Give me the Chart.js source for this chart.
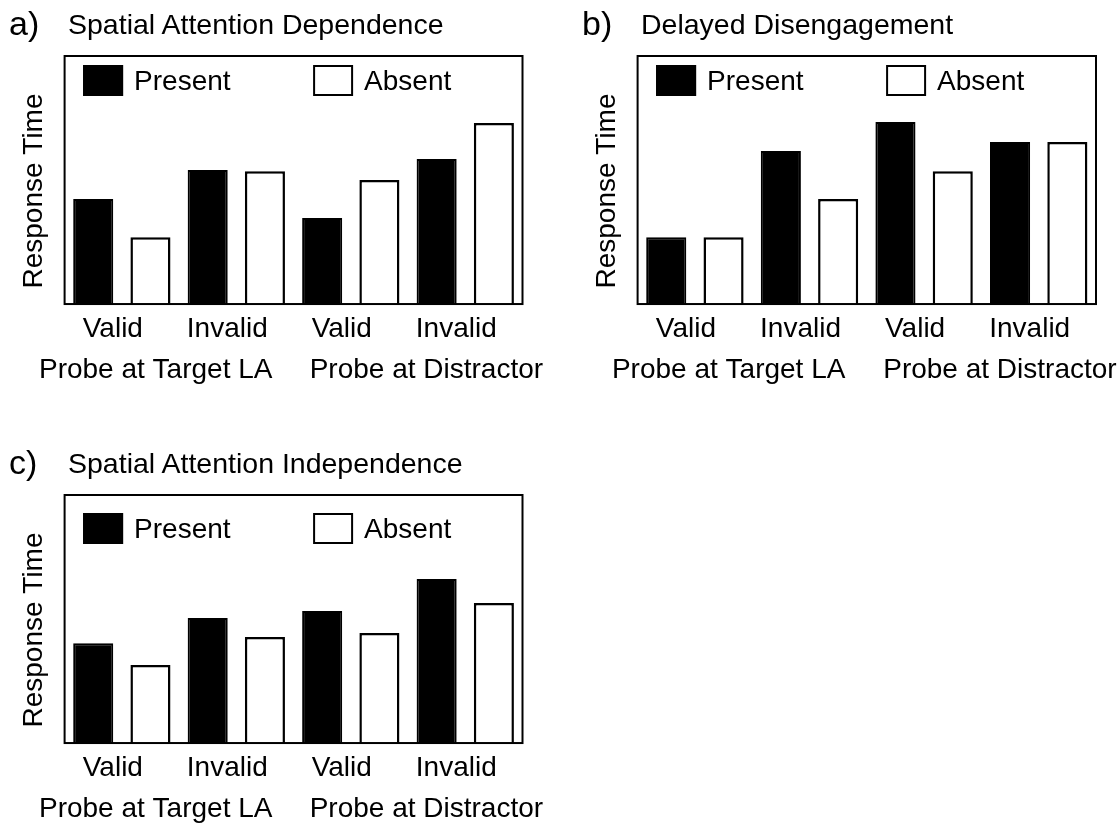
<!DOCTYPE html>
<html><head><meta charset="utf-8">
<script src="https://cdn.jsdelivr.net/npm/chart.js@4.4.0/dist/chart.umd.min.js"></script>
<style>
html,body{margin:0;padding:0;background:#fff;width:1120px;height:823px;overflow:hidden;font-family:'Liberation Sans',Arial,sans-serif;}
.panel{position:absolute;}
.panel canvas{position:absolute;left:0;top:0;}
.tag{position:absolute;left:9px;top:6px;font-size:34px;line-height:34px;color:#000;white-space:nowrap;}
.ttl{position:absolute;left:68px;top:10px;font-size:28.5px;line-height:28px;color:#000;white-space:nowrap;}
</style></head>
<body>
<div class="panel" style="left:0;top:0;width:570px;height:388px;">
  <canvas id="ca" width="570" height="388"></canvas>
  <div class="tag">a)</div><div class="ttl">Spatial Attention Dependence</div>
</div>
<div class="panel" style="left:573px;top:0;width:547px;height:388px;">
  <canvas id="cb" width="547" height="388"></canvas>
  <div class="tag">b)</div><div class="ttl">Delayed Disengagement</div>
</div>
<div class="panel" style="left:0;top:439px;width:570px;height:388px;">
  <canvas id="cc" width="570" height="388"></canvas>
  <div class="tag">c)</div><div class="ttl">Spatial Attention Independence</div>
</div>
<script>
// ---- data ----
const categories = ['Valid', 'Invalid', 'Valid', 'Invalid'];
const groupLabels = ['Probe at Target LA', 'Probe at Distractor'];
const seriesNames = ['Present', 'Absent'];
const yAxisLabel = 'Response Time';

const aPresent = [46.5, 59.3, 38.1, 64.2];
const aAbsent  = [29.6, 58.8, 54.9, 80.1];
const bPresent = [29.6, 67.7, 80.5, 71.7];
const bAbsent  = [29.6, 46.5, 58.8, 71.7];
const cPresent = [44.2, 55.3, 58.4, 72.6];
const cAbsent  = [34.5, 46.9, 48.7, 61.9];

// ---- rendering ----
const FONT = "'Liberation Sans', Arial, sans-serif";
Chart.defaults.font.family = FONT;
Chart.defaults.font.size = 28;
Chart.defaults.color = '#000';

const framePlugin = {
  id: 'frame',
  afterDatasetsDraw(chart, args, o) {
    const {ctx, chartArea: a} = chart;
    const top = a.top - o.extra;
    ctx.save();
    ctx.strokeStyle = '#000';
    ctx.lineWidth = 2;
    ctx.strokeRect(a.left, top, a.right - a.left, a.bottom - top);
    ctx.restore();
  }
};

const boxLegendPlugin = {
  id: 'boxLegend',
  afterDatasetsDraw(chart, args, o) {
    const {ctx, chartArea: a} = chart;
    const top = a.top - o.extra + o.dy;
    ctx.save();
    ctx.font = '28px ' + FONT;
    ctx.textBaseline = 'alphabetic';
    chart.data.datasets.forEach((ds, i) => {
      const x = a.left + o.x0 + i * o.step;
      ctx.fillStyle = ds.backgroundColor;
      ctx.fillRect(x, top, o.w, o.h);
      ctx.lineWidth = 2;
      ctx.strokeStyle = ds.borderColor;
      ctx.strokeRect(x + 1, top + 1, o.w - 2, o.h - 2);
      ctx.fillStyle = '#000';
      ctx.fillText(ds.label, x + o.w + o.gap, top + o.ty);
    });
    ctx.restore();
  }
};

function makeChart(id, present, absent, legendDy, rightPad) {
  const noGrid = () => ({display: false, drawTicks: false});
  return new Chart(document.getElementById(id), {
    type: 'bar',
    data: {
      labels: categories,
      datasets: [
        {label: seriesNames[0], data: present, backgroundColor: '#000', borderColor: '#000',
         borderWidth: 2, categoryPercentage: 1, barPercentage: 0.7},
        {label: seriesNames[1], data: absent, backgroundColor: '#fff', borderColor: '#000',
         borderWidth: 2.5, categoryPercentage: 1, barPercentage: 0.7}
      ]
    },
    options: {
      responsive: false,
      animation: false,
      devicePixelRatio: 1,
      events: [],
      layout: {padding: {left: 10, right: rightPad, top: 78, bottom: 2}},
      plugins: {
        legend: {display: false},
        tooltip: {enabled: false},
        frame: {extra: 22},
        boxLegend: {extra: 22, dy: legendDy, x0: 18.5, step: 230, w: 40, h: 31, gap: 11, ty: 25}
      },
      scales: {
        x: {
          type: 'category', position: 'bottom', weight: 0, offset: true,
          grid: noGrid(), border: {display: false},
          ticks: {padding: 8.5, labelOffset: -9, maxRotation: 0, autoSkip: false, font: {size: 28}}
        },
        x2: {
          type: 'linear', position: 'bottom', weight: 1, min: 0, max: 1, offset: false,
          grid: {display: false, drawTicks: false, offset: false}, border: {display: false},
          afterBuildTicks: (s) => { s.ticks = [-0.056, 1.045].map(v => ({value: v})); },
          ticks: {align: 'inner', padding: 0, maxRotation: 0, autoSkip: false,
                  font: {size: 28, lineHeight: 1.12},
                  callback: (v, i) => groupLabels[i]}
        },
        y: {
          min: 0, max: 100,
          grid: noGrid(), border: {display: false},
          ticks: {display: false},
          title: {display: true, text: yAxisLabel, font: {size: 28}, padding: {top: 7.5, bottom: 13.5}}
        }
      }
    },
    plugins: [framePlugin, boxLegendPlugin]
  });
}

makeChart('ca', aPresent, aAbsent, 9, 47.5);
makeChart('cb', bPresent, bAbsent, 9, 24);
makeChart('cc', cPresent, cAbsent, 18, 47.5);
</script>
</body></html>
